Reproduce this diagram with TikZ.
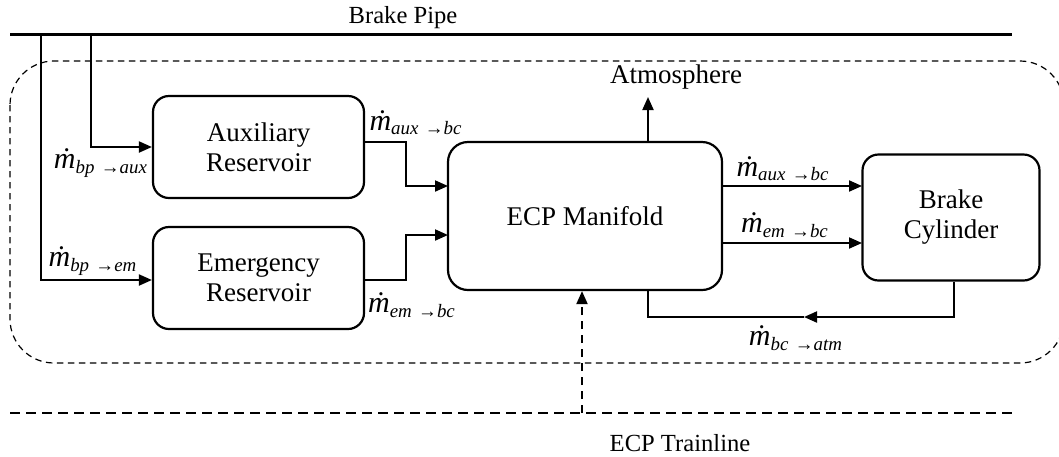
\documentclass[tikz,border=0pt]{standalone}
\usepackage{fontspec}
\setmainfont{Liberation Serif}
\usetikzlibrary{arrows.meta}
\newcommand{\mflow}[2]{{\fontsize{15}{17}\selectfont\itshape\.m}\textsubscript{\itshape #1\,\,→#2}}

\begin{document}
\begin{tikzpicture}[x=0.5pt, y=-0.5pt, font=\fontsize{13.5}{15}\selectfont]
  \tikzset{tank/.style={draw, line width=1.1pt, rounded corners=8pt, align=center, inner sep=2pt},
    flow/.style={line width=1pt, -{Triangle[length=6.5pt, width=5.5pt]}},
    plain/.style={line width=1pt},
    pipe/.style={line width=1.5pt},
    bus/.style={line width=1.3pt, dash pattern=on 5pt off 3pt},
    hull/.style={line width=0.6pt, dash pattern=on 3.2pt off 2.3pt, rounded corners=22pt},
    lbl/.style={inner sep=0pt}}
  \useasboundingbox (0,0) rectangle (1059,456);
  % ---- car outline and the two train lines ----
  \draw[hull] (10,61) rectangle (1064,363);
  \draw[pipe] (10,34) -- (1012,34);
  \node[lbl, font=\fontsize{12.3}{14}\selectfont] (bplbl) at (403,18) {Brake Pipe};
  \draw[bus] (10,413) -- (1012,413);
  \node[lbl, font=\fontsize{12.3}{14}\selectfont] (tllbl) at (680,443) {ECP Trainline};
  % ---- components ----
  \node[tank, minimum width=105.5pt, minimum height=51pt] (aux) at (258.5,147) {Auxiliary\\Reservoir};
  \node[tank, minimum width=105.5pt, minimum height=51pt] (emr) at (258.5,278) {Emergency\\Reservoir};
  \node[tank, rounded corners=10pt, minimum width=137pt, minimum height=74pt] (man) at (585,216) {ECP Manifold};
  \node[tank, minimum width=88.5pt, minimum height=63pt] (bc) at (951,217.5) {Brake\\Cylinder};
  \node[lbl] (atm) at (676,77) {Atmosphere};
  % ---- ports ----
  \coordinate (tapem) at (41,34);
  \coordinate (tapaux) at (91,34);
  \coordinate (auxout) at (364,142);
  \coordinate (emout) at (364,280);
  \coordinate (jx) at (406,0);
  \coordinate (manin1) at (448,186);
  \coordinate (manin2) at (448,235);
  \coordinate (bcin1) at (862,186);
  \coordinate (bcin2) at (862,243);
  \coordinate (vent) at (648,317);
  \coordinate (retip) at (804,317);
  \coordinate (atmtip) at (648,97);
  \coordinate (tltap) at (582,413);
  % ---- flows ----
  \draw[flow] (tapaux) |- (aux.west);
  \draw[flow] (tapem) |- (emr.west |- emout);
  \draw[flow] (auxout) -- (auxout -| jx) |- (manin1);
  \draw[flow] (emout) -- (emout -| jx) |- (manin2);
  \draw[flow] (man.east |- bcin1) -- (bcin1);
  \draw[flow] (man.east |- bcin2) -- (bcin2);
  \draw[flow] (man.north -| vent) -- (atmtip);
  \draw[flow] ([xshift=1.5pt]bc.south) |- (retip);
  \draw[plain] (retip) -- (vent) -- (man.south -| vent);
  \draw[flow, dash pattern=on 4pt off 3pt] (tltap) -- (man.south -| tltap);
  % ---- mass flow labels ----
  \node[lbl] (fbpaux) at (101,163) {\mflow{bp}{aux}};
  \node[lbl] (fbpem) at (93,261) {\mflow{bp}{em}};
  \node[lbl] (fauxin) at (416,123) {\mflow{aux}{bc}};
  \node[lbl] (femin) at (412,305) {\mflow{em}{bc}};
  \node[lbl] (fauxbc) at (783,169) {\mflow{aux}{bc}};
  \node[lbl] (fembc) at (785,225) {\mflow{em}{bc}};
  \node[lbl] (fbcatm) at (796,338) {\mflow{bc}{atm}};
\end{tikzpicture}
\end{document}
